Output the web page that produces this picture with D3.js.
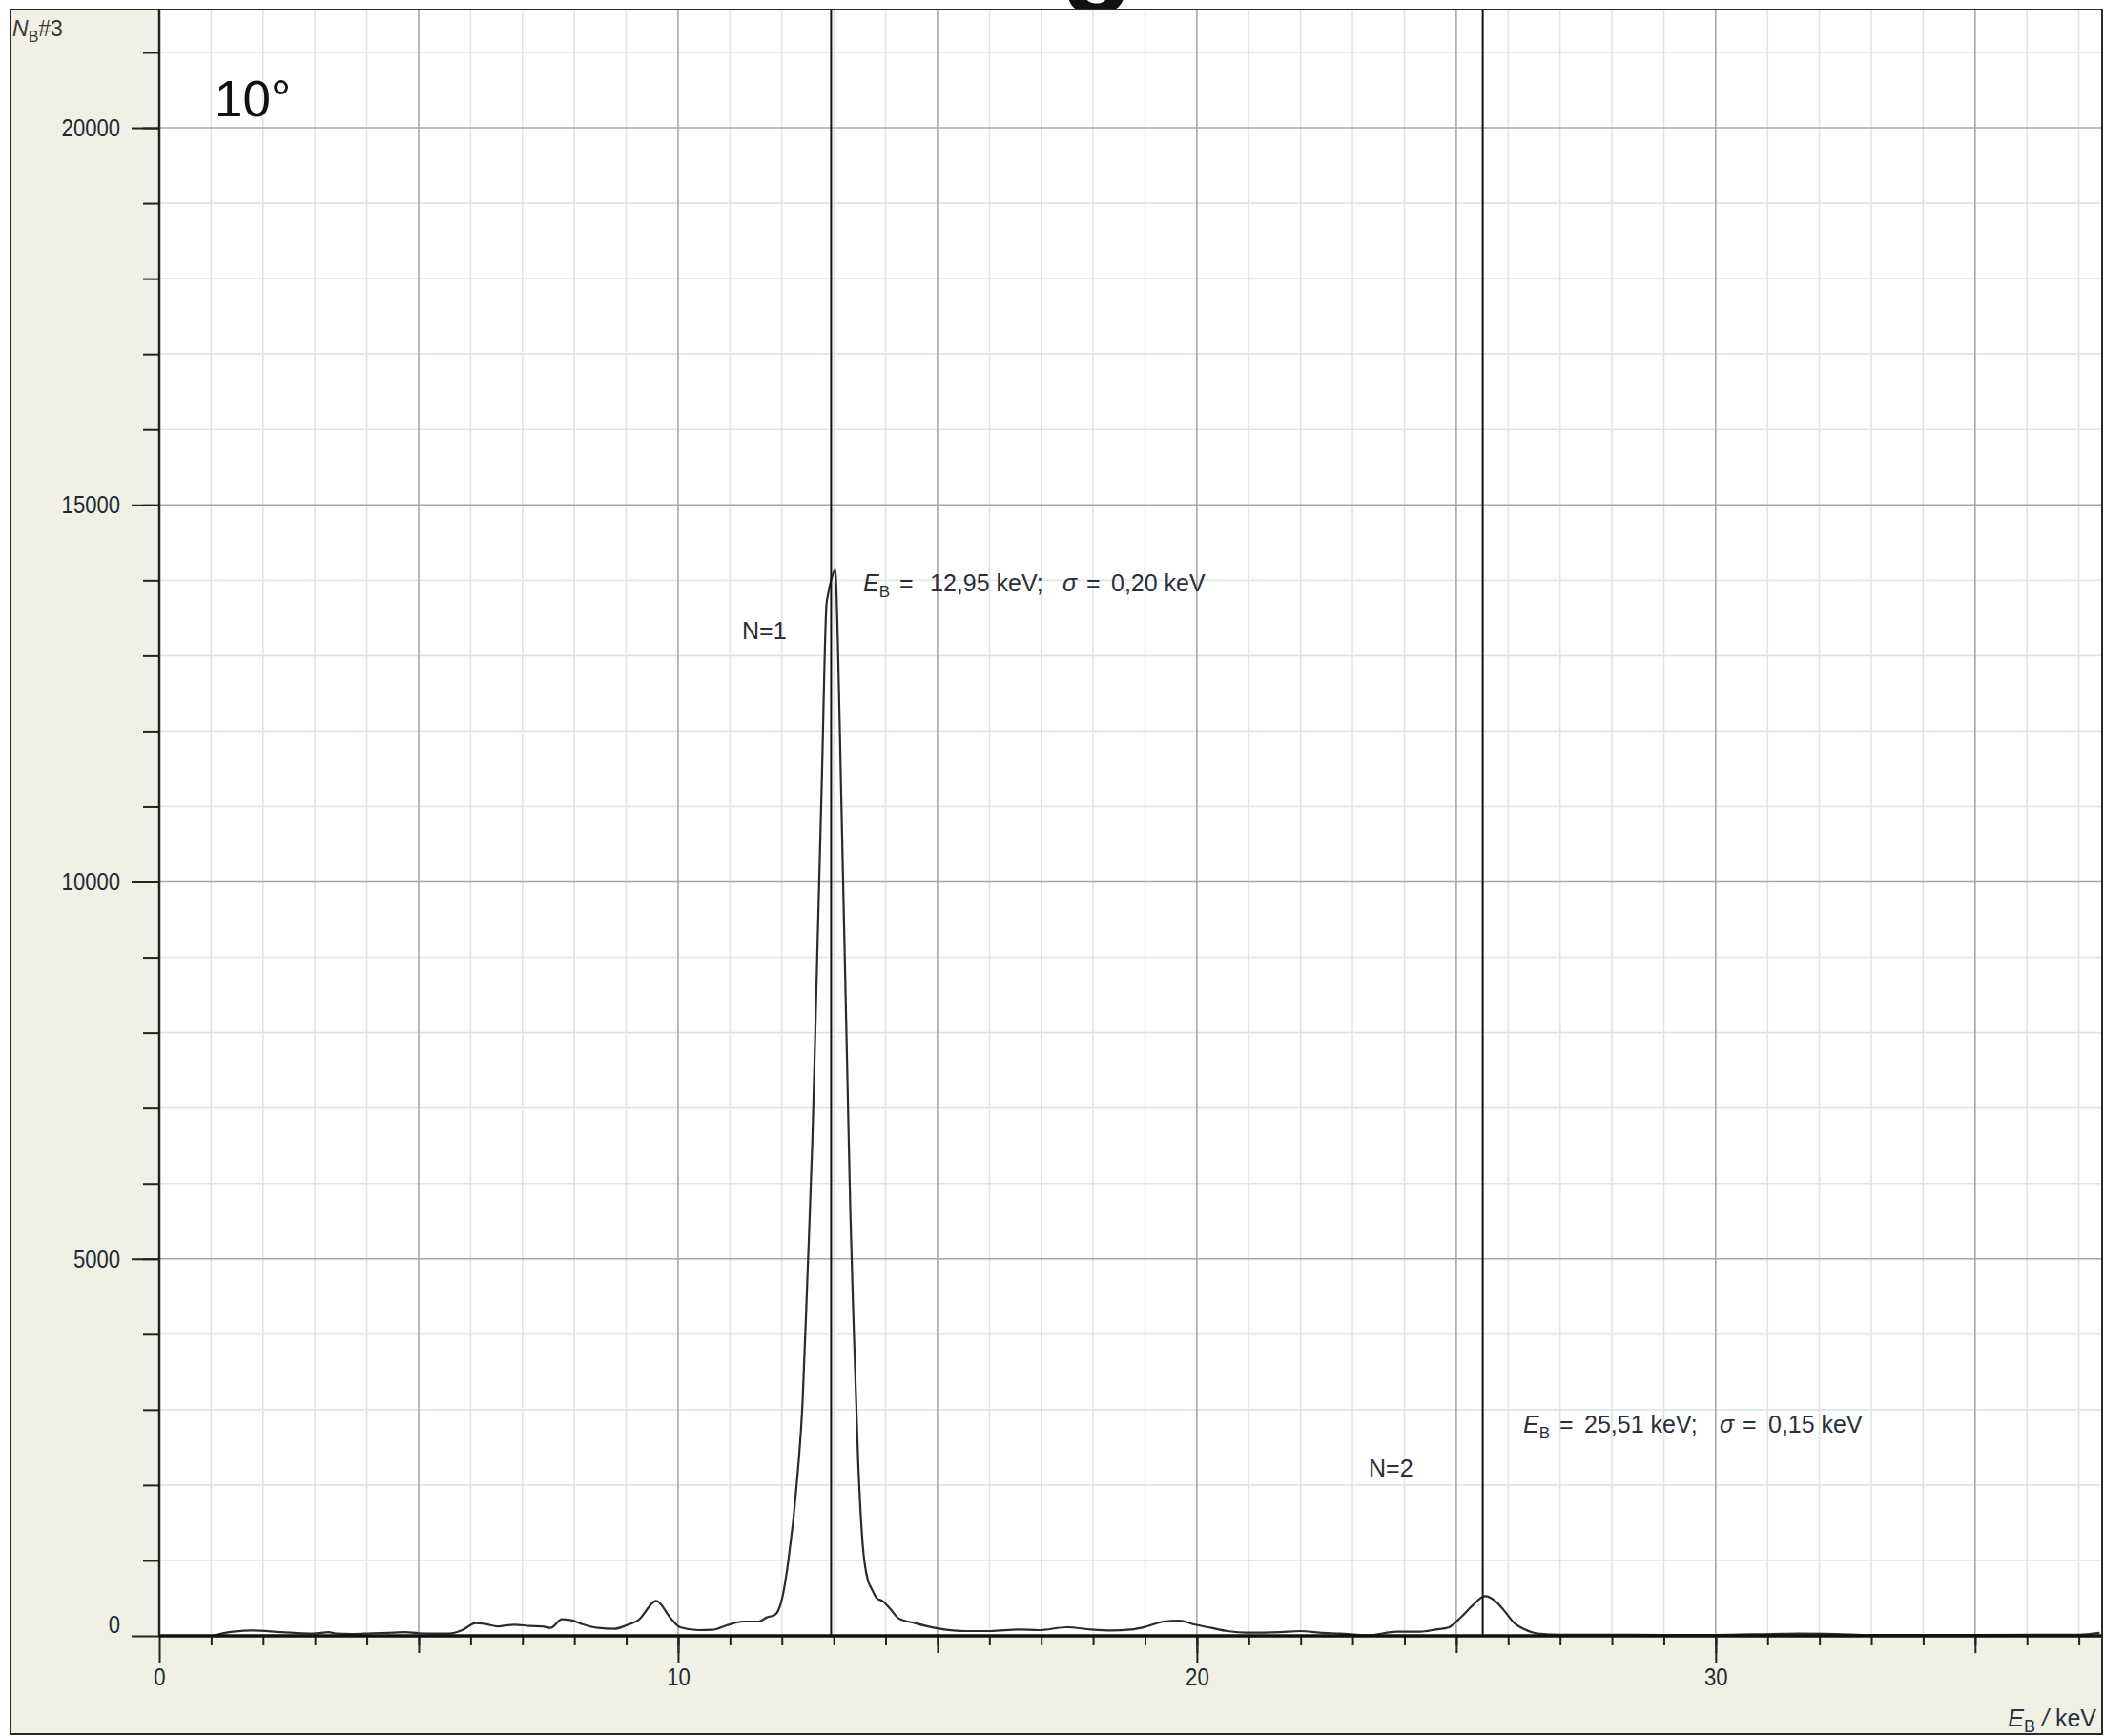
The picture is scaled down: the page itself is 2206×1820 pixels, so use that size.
<!DOCTYPE html>
<html>
<head>
<meta charset="utf-8">
<script src="https://cdn.jsdelivr.net/npm/d3@7"></script>
<style>
  html, body { margin: 0; padding: 0; background: #ffffff; }
  svg { display: block; }
  text { font-family: 'Liberation Sans', Arial, sans-serif; }
</style>
</head>
<body>
<svg id="chart" width="2206" height="1820"></svg>
<script>
// ---------------- data ----------------
const energy = [0.0, 1.0, 1.2, 1.42, 1.8, 2.35, 2.96, 3.27, 3.4, 3.73, 4.1, 4.5, 4.74, 5.0, 5.3, 5.59, 5.83,
  6.1, 6.29, 6.52, 6.84, 7.15, 7.38, 7.54, 7.76, 7.92, 8.15, 8.46, 8.77, 9.0, 9.23, 9.58, 9.86,
  10.04, 10.39, 10.66, 10.94, 11.25, 11.56, 11.71, 11.82, 11.9, 12.0, 12.13, 12.28, 12.4, 12.49,
  12.59, 12.68, 12.77, 12.86, 12.89, 12.95, 13.03, 13.08, 13.14, 13.2, 13.26, 13.32, 13.38, 13.47,
  13.56, 13.66, 13.72, 13.84, 13.94, 14.09, 14.25, 14.56, 15.02, 15.56, 16.03, 16.56, 16.95, 17.5,
  17.96, 18.35, 18.73, 19.04, 19.36, 19.66, 19.97, 20.28, 20.59, 20.97, 21.6, 21.99, 22.37, 22.76,
  23.3, 23.85, 24.3, 24.61, 24.85, 25.08, 25.31, 25.55, 25.75, 25.92, 26.12, 26.32, 26.57, 27.0,
  28.0, 29.0, 30.0, 31.1, 31.6, 32.3, 33.0, 35.0, 37.0, 37.4];
const counts = [0, 0, 30, 55, 72, 50, 30, 50, 30, 25, 35, 42, 50, 35, 30, 30, 72,
  169, 156, 126, 148, 131, 126, 105, 219, 211, 156, 105, 93, 139, 207, 464, 232,
  114, 76, 80, 139, 190, 190, 245, 266, 300, 480, 1017, 1960, 3100, 4700,
  6590, 8946, 11310, 13670, 13810, 14000, 14140, 13190, 11310, 9420, 7530, 5640, 4220, 2340,
  1200, 734, 640, 493, 464, 358, 232, 169, 97, 63, 63, 84, 76, 114,
  84, 72, 84, 126, 190, 202, 148, 105, 63, 42, 50, 63, 42, 30,
  8, 55, 55, 84, 110, 240, 400, 527, 464, 337, 169, 84, 30, 15,
  15, 12, 12, 25, 30, 25, 12, 12, 15, 40];

const markerEnergies = [12.95, 25.51];
const peakNames = ["N=1", "N=2"];
const peakE = ["12,95", "25,51"];
const peakSigma = ["0,20", "0,15"];
const xLabelTicks = [0, 10, 20, 30];
const yLabelTicks = [0, 5000, 10000, 15000, 20000];
const xDomainMax = 37.43;
const yDomainMax = 21569;

// ---------------- layout ----------------
const svg = d3.select("#chart");
const L = 167, R = 2203, T = 10, B = 1715;
const SQ = 0.85; // horizontal squeeze for the narrow UI font

const x = d3.scaleLinear().domain([0, xDomainMax]).range([L, R]);
const y = d3.scaleLinear().domain([0, yDomainMax]).range([B, T]);

// cut-off title glyph at the very top
svg.append("text").attr("x", 1112).attr("y", -12)
  .attr("font-size", 126).attr("font-weight", "bold").attr("fill", "#111").text("g");

// outer frame
svg.append("rect").attr("x", 11).attr("y", 10).attr("width", 2193).attr("height", 1808)
  .attr("fill", "#f0f0e4").attr("stroke", "#2a2a2a").attr("stroke-width", 2);

// plot area
svg.append("rect").attr("x", L).attr("y", T).attr("width", R - L).attr("height", B - T).attr("fill", "#ffffff");

const xMinor = d3.range(1, Math.floor(xDomainMax) + 1);
const yMinor = d3.range(1000, yDomainMax, 1000);

// minor gridlines
svg.append("g").selectAll("line").data(xMinor.filter(d => d % 5 !== 0)).join("line")
  .attr("x1", d => x(d)).attr("x2", d => x(d)).attr("y1", T).attr("y2", B)
  .attr("stroke", "#dde6e6").attr("stroke-width", 1.6);
svg.append("g").selectAll("line").data(yMinor.filter(d => d % 5000 !== 0)).join("line")
  .attr("y1", d => y(d)).attr("y2", d => y(d)).attr("x1", L).attr("x2", R)
  .attr("stroke", "#dde6e6").attr("stroke-width", 1.6);
// major gridlines
svg.append("g").selectAll("line").data(xMinor.filter(d => d % 5 === 0)).join("line")
  .attr("x1", d => x(d)).attr("x2", d => x(d)).attr("y1", T).attr("y2", B)
  .attr("stroke", "#a8a8a8").attr("stroke-width", 1.6);
svg.append("g").selectAll("line").data(yMinor.filter(d => d % 5000 === 0)).join("line")
  .attr("y1", d => y(d)).attr("y2", d => y(d)).attr("x1", L).attr("x2", R)
  .attr("stroke", "#a8a8a8").attr("stroke-width", 1.6);

// spectrum
const pts = energy.map((e, i) => [e, counts[i]]);
svg.append("path").datum(pts)
  .attr("fill", "none").attr("stroke", "#2b2b2b").attr("stroke-width", 2.2)
  .attr("d", d3.line().x(d => x(d[0])).y(d => y(d[1])).curve(d3.curveMonotoneX));

// marker lines
svg.append("g").selectAll("line").data(markerEnergies).join("line")
  .attr("x1", d => x(d)).attr("x2", d => x(d)).attr("y1", T).attr("y2", B)
  .attr("stroke", "#111").attr("stroke-width", 2);

// axes
function styleAxis(g) {
  g.select(".domain").remove();
  g.selectAll(".tick line").attr("stroke", "#222").attr("stroke-width", 2);
  g.selectAll("text").attr("fill", "#1f2a36").attr("font-size", 26)
    .attr("font-family", "'Liberation Sans', Arial, sans-serif")
    .each(function () {
      const t = d3.select(this);
      const x0 = +t.attr("x") || 0;
      t.attr("x", x0 / SQ).attr("transform", `scale(${SQ},1)`);
    });
}
// y minor ticks
svg.append("g").attr("transform", `translate(${L},0)`)
  .call(d3.axisLeft(y).tickValues(yMinor).tickSize(17).tickFormat(""))
  .call(styleAxis);
// y major ticks with labels
const yAx = svg.append("g").attr("transform", `translate(${L},0)`)
  .call(d3.axisLeft(y).tickValues(yLabelTicks).tickSize(29).tickPadding(12).tickFormat(d3.format("d")))
  .call(styleAxis);
yAx.selectAll(".tick").filter(d => d === 0).select("text").attr("dy", "-0.12em");

// x ticks
svg.append("g").attr("transform", `translate(0,${B})`)
  .call(d3.axisBottom(x).tickValues(xMinor).tickSize(10).tickFormat(""))
  .call(styleAxis);
svg.append("g").attr("transform", `translate(0,${B})`)
  .call(d3.axisBottom(x).tickValues(xMinor.filter(d => d % 5 === 0)).tickSize(18).tickFormat(""))
  .call(styleAxis);
svg.append("g").attr("transform", `translate(0,${B})`)
  .call(d3.axisBottom(x).tickValues(xLabelTicks).tickSize(28).tickPadding(6).tickFormat(d3.format("d")))
  .call(styleAxis);

// axis lines
svg.append("line").attr("x1", L).attr("x2", L).attr("y1", T).attr("y2", B + 1)
  .attr("stroke", "#222").attr("stroke-width", 2.5);
svg.append("line").attr("x1", L).attr("x2", R).attr("y1", B).attr("y2", B)
  .attr("stroke", "#111").attr("stroke-width", 3.5);

// axis titles
const yt = svg.append("text").attr("x", 13).attr("y", 38)
  .attr("font-size", 23).attr("fill", "#3a3a3a");
yt.append("tspan").attr("font-style", "italic").text("N");
yt.append("tspan").attr("font-size", 16).attr("dy", 6).text("B");
yt.append("tspan").attr("dy", -6).text("#3");

const xt = svg.append("text").attr("x", 2198).attr("y", 1810).attr("text-anchor", "end")
  .attr("font-size", 25).attr("fill", "#2a3440");
xt.append("tspan").attr("font-style", "italic").text("E");
xt.append("tspan").attr("font-size", 18).attr("dy", 6).text("B");
xt.append("tspan").attr("dy", -6).attr("font-style", "italic").text(" /");
xt.append("tspan").text(" keV");

// angle label
svg.append("text").attr("x", 225).attr("y", 122)
  .attr("font-size", 53).attr("fill", "#111").text("10°");

// annotations
const annPos = [
  { px: 778, py: 670, ty: 620, xs: [905, 943, 975, 1114, 1139, 1165] },
  { px: 1435, py: 1548, ty: 1502, xs: [1597, 1635, 1661, 1803, 1827, 1854] }
];
markerEnergies.forEach((m, i) => {
  const p = annPos[i];
  svg.append("text").attr("x", p.px).attr("y", p.py)
    .attr("font-size", 25).attr("fill", "#2a2f3a").text(peakNames[i]);
  const t = svg.append("text").attr("y", p.ty).attr("font-size", 25).attr("fill", "#2a2f3a");
  t.append("tspan").attr("x", p.xs[0]).attr("font-style", "italic").text("E");
  t.append("tspan").attr("font-size", 17).attr("dy", 6).text("B");
  t.append("tspan").attr("x", p.xs[1]).attr("dy", -6).text("=");
  t.append("tspan").attr("x", p.xs[2]).text(peakE[i] + " keV;");
  t.append("tspan").attr("x", p.xs[3]).attr("font-style", "italic").text("σ");
  t.append("tspan").attr("x", p.xs[4]).text("=");
  t.append("tspan").attr("x", p.xs[5]).text(peakSigma[i] + " keV");
});
</script>
</body>
</html>
